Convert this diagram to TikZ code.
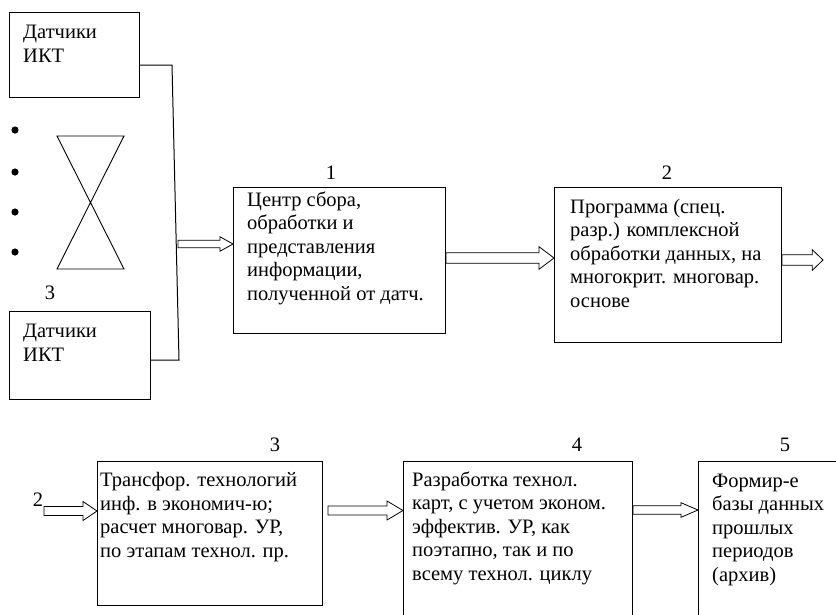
\documentclass[tikz,border=0pt]{standalone}
\usepackage{fontspec}
\setmainfont{Liberation Serif}
\usetikzlibrary{calc}
\tikzset{
  boxline/.style={draw, line width=1pt},
  arrowline/.style={draw, line width=0.8pt, line join=miter},
  txt/.style={inner sep=0pt, anchor=base west, align=left, font=\fontsize{20.5}{23.5}\selectfont},
  num/.style={inner sep=0pt, font=\fontsize{20.5}{23.5}\selectfont},
}
\newcommand\blockarrow[5]{%
  \draw[arrowline] let \p1=(#1), \p2=(#2) in
  (\x1,\y1+#3pt) -- (\x2-#5pt,\y1+#3pt) -- (\x2-#5pt,\y1+#4pt) -- (\x2,\y1)
  -- (\x2-#5pt,\y1-#4pt) -- (\x2-#5pt,\y1-#3pt) -- (\x1,\y1-#3pt) -- cycle;}
\begin{document}
\begin{tikzpicture}[x=1pt,y=-1pt]
\useasboundingbox (0,0) rectangle (836,614);
\clip (0,0) rectangle (836,614);
\fill[white] (0,0) rectangle (836,614);
% boxes
\draw[boxline] (9,12) rectangle (139,97);
\coordinate (D1e) at (139,65);
\draw[boxline] (9,311) rectangle (150,399);
\coordinate (D2e) at (150,360);
\node[boxline, inner sep=0pt, minimum width=212pt, minimum height=146pt, anchor=north west] (B1) at (233,187) {};
\node[boxline, inner sep=0pt, minimum width=227pt, minimum height=155pt, anchor=north west] (B2) at (554,187) {};
\node[boxline, inner sep=0pt, minimum width=225pt, minimum height=144pt, anchor=north west] (B3) at (97,461) {};
\node[boxline, inner sep=0pt, minimum width=229pt, minimum height=180pt, anchor=north west] (B4) at (403,461) {};
\node[boxline, inner sep=0pt, minimum width=180pt, minimum height=180pt, anchor=north west] (B5) at (698,461) {};
% texts (anchor = baseline of last line)
\node[txt] (tD1) at (23,62) {Датчики\\ИКТ};
\node[txt] (tD2) at (23,361) {Датчики\\ИКТ};
\node[txt] (t1) at (247,300) {Центр сбора,\\обработки и\\представления\\информации,\\полученной от датч.};
\node[txt] (t2) at (570,307) {Программа (спец.\\разр.) комплексной\\обработки данных, на\\многокрит. многовар.\\основе};
\node[txt] (t3) at (100,557) {Трансфор. технологий\\инф. в экономич-ю;\\расчет многовар. УР,\\по этапам технол. пр.};
\node[txt] (t4) at (412,580) {Разработка технол.\\карт, с учетом эконом.\\эффектив. УР, как\\поэтапно, так и по\\всему технол. циклу};
\node[txt] (t5) at (712,581) {Формир-е\\базы данных\\прошлых\\периодов\\(архив)};
% numbers
\node[num] (n1) at (331,173) {1};
\node[num] (n2) at (667,173) {2};
\node[num] (n3a) at (50,293) {3};
\node[num] (n3b) at (275,445) {3};
\node[num] (n4) at (577,445) {4};
\node[num] (n5) at (785,445) {5};
\node[num] (n2b) at (38,500) {2};
% bullets and hourglass
\foreach \yy in {130,172,212,252} \fill (15,\yy) circle (3.6pt);
\draw[line width=0.9pt] (57,136) -- (124,136) -- (57,269) -- (124,269) -- cycle;
% connector from sensors
\coordinate (j1) at (172,65);
\coordinate (j2) at (179,360);
\draw[line width=1pt] (D1e) -- (j1) -- (j2) -- (D2e);
% block arrows
\coordinate (a1s) at (178,244);
\blockarrow{a1s}{B1.west |- a1s}{3.8}{7.2}{13}
\coordinate (a2s) at (B1.east |- 0,258);
\blockarrow{a2s}{B2.west |- a2s}{5.3}{11.3}{15}
\coordinate (a3s) at (B2.east |- 0,260);
\coordinate (a3e) at (823,260);
\blockarrow{a3s}{a3e}{5.3}{10.3}{10.7}
\coordinate (a4s) at (44,511);
\blockarrow{a4s}{B3.west |- a4s}{4.5}{9.5}{14}
\coordinate (a5s) at (328,510.5);
\blockarrow{a5s}{B4.west |- a5s}{4.5}{9.5}{16}
\coordinate (a6s) at (B4.east |- 0,510);
\blockarrow{a6s}{B5.west |- a6s}{4.2}{7.3}{17}
\end{tikzpicture}
\end{document}
